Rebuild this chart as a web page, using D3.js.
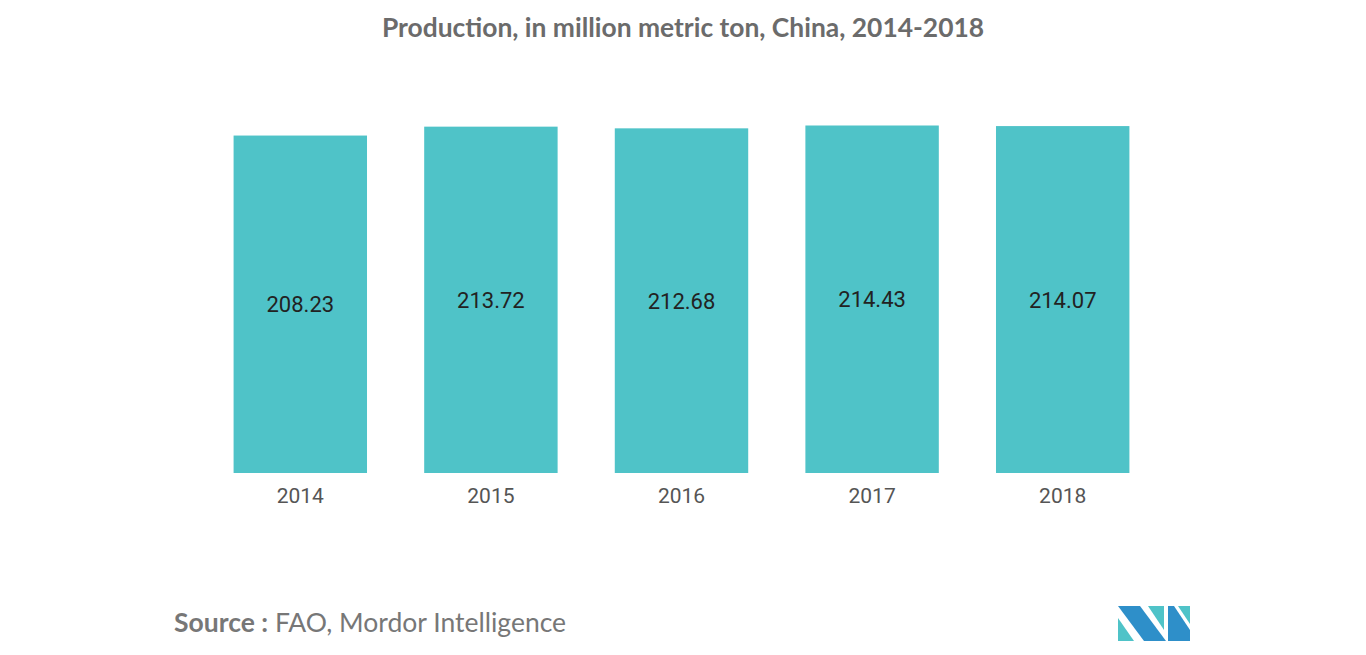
<!DOCTYPE html><html><head><meta charset="utf-8"><script src="https://cdn.jsdelivr.net/npm/d3@7"></script>
<style>body{margin:0;background:#fff}</style></head><body><svg id="c" width="1366" height="655"></svg>
<script>
const years=["2014","2015","2016","2017","2018"];
const values=[208.23,213.72,212.68,214.43,214.07];
const svg=d3.select("#c");
const x=d3.scaleBand().domain(years).range([205,1158]).paddingInner(0.3).paddingOuter(0.15);
const y=d3.scaleLinear().domain([0,214.43]).range([473,125.5]);
svg.append("text").attr("x",683).attr("y",37).attr("text-anchor","middle").attr("font-family","Lato, sans-serif").attr("font-weight","bold").attr("font-size",26.4).attr("fill","#6b6b6b").text("Production, in million metric ton, China, 2014-2018");
svg.selectAll("rect.b").data(values).join("rect").attr("class","b").attr("x",(d,i)=>x(years[i])).attr("width",x.bandwidth()).attr("y",d=>y(d)).attr("height",d=>y(0)-y(d)).attr("fill","#4fc3c8");
svg.selectAll("text.v").data(values).join("text").attr("class","v").attr("x",(d,i)=>x(years[i])+x.bandwidth()/2).attr("y",d=>(y(d)+y(0))/2+8).attr("text-anchor","middle").attr("font-family","Roboto, sans-serif").attr("font-size",22).attr("fill","#222").text(d=>d.toFixed(2));
const ax=svg.append("g").attr("transform","translate(0,473)").call(d3.axisBottom(x).tickSize(0).tickPadding(15));
ax.select(".domain").remove();
ax.selectAll("text").attr("font-family","Roboto, sans-serif").attr("font-size",21).attr("fill","#555");
const s=svg.append("text").attr("x",174).attr("y",632).attr("font-family","Lato, sans-serif").attr("font-size",26.5).attr("fill","#777");
s.append("tspan").attr("font-weight","bold").text("Source :");
s.append("tspan").text(" FAO, Mordor Intelligence");
const g=svg.append("g");
g.append("polygon").attr("points","1118,606 1140,606 1166,641 1144,641").attr("fill","#2e8fc9");
g.append("polygon").attr("points","1118,618 1134,641 1118,641").attr("fill","#4fc3c8");
g.append("polygon").attr("points","1148,606 1164,606 1164,630").attr("fill","#4fc3c8");
g.append("polygon").attr("points","1168,606 1174,606 1190,630 1190,641 1168,641").attr("fill","#2e8fc9");
g.append("polygon").attr("points","1178,606 1190,606 1190,624").attr("fill","#4fc3c8");
</script></body></html>
